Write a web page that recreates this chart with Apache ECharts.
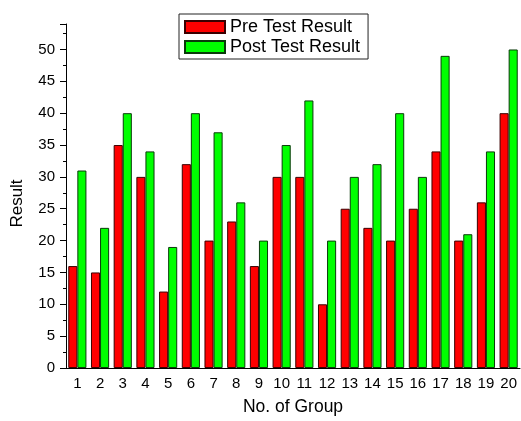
<!DOCTYPE html>
<html lang="en" style="height: 100%">

<head>
    <meta charset="UTF-8">
    <title>Result</title>
    <script type="text/javascript" src="https://cdn.jsdelivr.net/npm/echarts@6/dist/echarts.min.js"></script>
</head>

<body style="height: 100%; margin: 0; background: #fff">
    <div id="container" style="width: 521px; height: 421px"></div>
    <script type="text/javascript">
    var groups = ['1', '2', '3', '4', '5', '6', '7', '8', '9', '10',
        '11', '12', '13', '14', '15', '16', '17', '18', '19', '20'];
    var preTest = [16, 15, 35, 30, 12, 32, 20, 23, 16, 30, 30, 10, 25, 22, 20, 25, 34, 20, 26, 40];
    var postTest = [31, 22, 40, 34, 19, 40, 37, 26, 20, 35, 42, 20, 30, 32, 40, 30, 49, 21, 34, 50];

    var font = 'Liberation Sans, Arial, sans-serif';
    var myChart = echarts.init(document.getElementById('container'));

    var option = {
        backgroundColor: '#fff',
        animation: false,
        textStyle: { fontFamily: font, color: '#000' },
        legend: {
            orient: 'vertical',
            left: 179,
            top: 14,
            padding: [4, 8, 3, 5],
            icon: 'rect',
            itemWidth: 40,
            itemHeight: 12,
            itemGap: 2,
            itemTextGap: 6,
            borderColor: '#222',
            borderWidth: 1,
            textStyle: { fontFamily: font, fontSize: 18, lineHeight: 16, color: '#000' },
            data: ['Pre Test Result', 'Post Test Result']
        },
        grid: {
            left: 66,
            right: 1,
            top: 24,
            bottom: 49
        },
        xAxis: [{
            type: 'category',
            data: groups,
            position: 'bottom',
            name: 'No. of Group',
            nameLocation: 'middle',
            nameGap: 30,
            nameTextStyle: { fontFamily: font, fontSize: 17.5, color: '#000' },
            axisLine: { lineStyle: { color: '#000', width: 1 } },
            axisTick: { alignWithLabel: true, length: 6, lineStyle: { color: '#000' } },
            axisLabel: { interval: 0, fontSize: 15, margin: 8, color: '#000', fontFamily: font },
            splitLine: { show: false }
        }, {
            type: 'category',
            data: groups,
            position: 'bottom',
            axisLine: { show: false },
            axisTick: { length: 3, interval: 0, lineStyle: { color: '#000' } },
            axisLabel: { show: false },
            splitLine: { show: false }
        }],
        yAxis: {
            type: 'value',
            min: 0,
            max: 54,
            interval: 5,
            name: 'Result',
            nameLocation: 'middle',
            nameGap: 40,
            nameTextStyle: { fontFamily: font, fontSize: 17, color: '#000', padding: [0, 15, 0, 0] },
            axisLine: { show: true, lineStyle: { color: '#000', width: 1 } },
            axisTick: { show: true, length: 6, lineStyle: { color: '#000' } },
            minorTick: { show: true, splitNumber: 2, length: 3, lineStyle: { color: '#000' } },
            axisLabel: {
                fontSize: 15,
                margin: 11,
                color: '#000',
                fontFamily: font,
                showMaxLabel: false
            },
            splitLine: { show: false }
        },
        series: [{
            name: 'Pre Test Result',
            type: 'bar',
            barGap: '0%',
            barCategoryGap: '20%',
            itemStyle: { color: '#ff0000', borderColor: '#3a0000', borderWidth: 1 },
            data: preTest
        }, {
            name: 'Post Test Result',
            type: 'bar',
            barGap: '0%',
            barCategoryGap: '20%',
            itemStyle: { color: '#00ff00', borderColor: '#0a3a0a', borderWidth: 1 },
            data: postTest
        }]
    };

    myChart.setOption(option);
    </script>
</body>

</html>
